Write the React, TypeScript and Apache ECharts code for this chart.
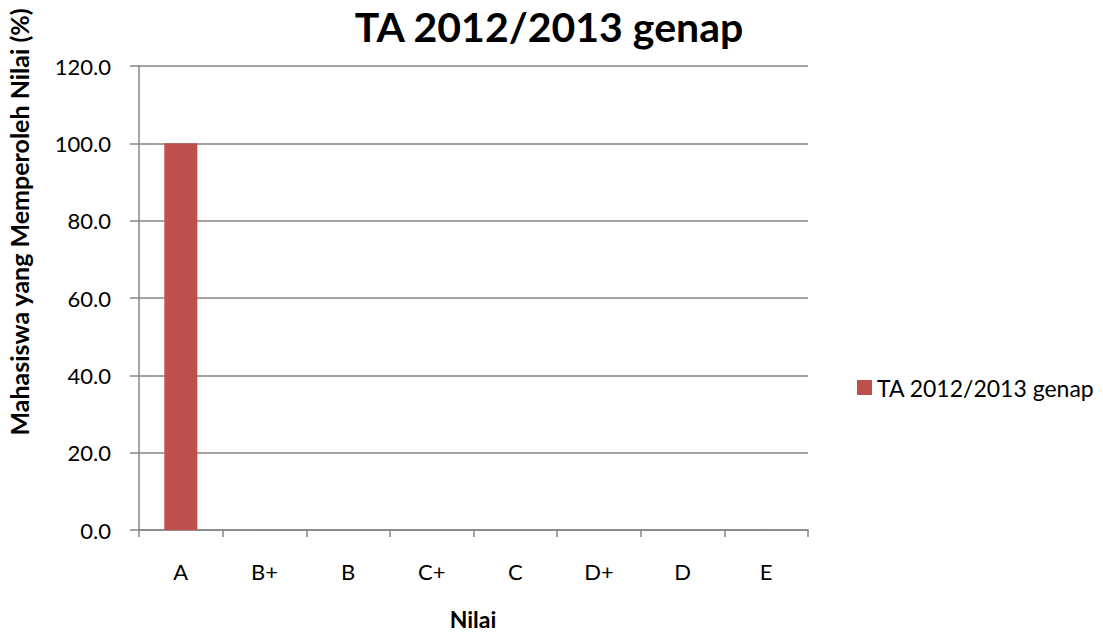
import React, { useEffect, useRef } from "react";
import * as echarts from "echarts";

const categories = ["A", "B+", "B", "C+", "C", "D+", "D", "E"];
const seriesName = "TA 2012/2013 genap";
const values = [100, 0, 0, 0, 0, 0, 0, 0];
const titleText = "TA 2012/2013 genap";
const yAxisName = "Mahasiswa yang Memperoleh Nilai (%)";
const xAxisName = "Nilai";
const yMin = 0;
const yMax = 120;
const yInterval = 20;

export default function App() {
  const ref = useRef<HTMLDivElement>(null);
  useEffect(() => {
    if (!ref.current) return;
    const chart = echarts.init(ref.current, undefined, { renderer: "svg" });
    const font = "Lato, 'Open Sans', sans-serif";
    const gray = "#868686";
    chart.setOption({
      animation: false,
      backgroundColor: "#ffffff",
      textStyle: { fontFamily: font },
      grid: { left: 139, right: 295, top: 66, bottom: 108, containLabel: false },
      graphic: [
        {
          type: "text",
          x: 549,
          y: 6,
          style: {
            text: titleText,
            fontSize: 41,
            fontWeight: "bold",
            fontFamily: font,
            fill: "#000",
            textAlign: "center",
            textVerticalAlign: "top",
          },
        },
        {
          type: "text",
          x: 6,
          y: 222,
          rotation: Math.PI / 2,
          style: {
            text: yAxisName,
            fontSize: 25,
            fontWeight: "bold",
            fontFamily: font,
            fill: "#000",
            textAlign: "center",
            textVerticalAlign: "top",
          },
        },
        {
          type: "text",
          x: 473,
          y: 619,
          style: {
            text: xAxisName,
            fontSize: 23,
            fontWeight: "bold",
            fontFamily: font,
            fill: "#000",
            textAlign: "center",
            textVerticalAlign: "middle",
          },
        },
      ],
      legend: {
        data: [seriesName],
        left: 852,
        top: 371,
        itemWidth: 15,
        itemHeight: 15,
        itemGap: 10,
        icon: "rect",
        textStyle: { fontSize: 23, fontFamily: font, color: "#000" },
      },
      xAxis: {
        type: "category",
        data: categories,
        boundaryGap: true,
        axisLine: { show: true, lineStyle: { color: gray, width: 1.5 } },
        axisTick: { show: true, length: 7, lineStyle: { color: gray, width: 1.5 } },
        axisLabel: { margin: 30, fontSize: 22, color: "#000", fontFamily: font },
      },
      yAxis: {
        type: "value",
        min: yMin,
        max: yMax,
        interval: yInterval,
        axisLine: { show: true, lineStyle: { color: gray, width: 1.5 } },
        axisTick: { show: true, length: 9, lineStyle: { color: gray, width: 1.5 } },
        axisLabel: {
          margin: 28,
          fontSize: 22,
          color: "#000",
          fontFamily: font,
          formatter: (v: number) => v.toFixed(1),
        },
        splitLine: { show: true, lineStyle: { color: gray, width: 1.5 } },
      },
      series: [
        {
          name: seriesName,
          type: "bar",
          data: values,
          barWidth: 33,
          itemStyle: { color: "#C0504D" },
        },
      ],
    });
    return () => chart.dispose();
  }, []);
  return <div ref={ref} style={{ width: 1103, height: 638, position: "absolute", left: 0, top: 0 }} />;
}
